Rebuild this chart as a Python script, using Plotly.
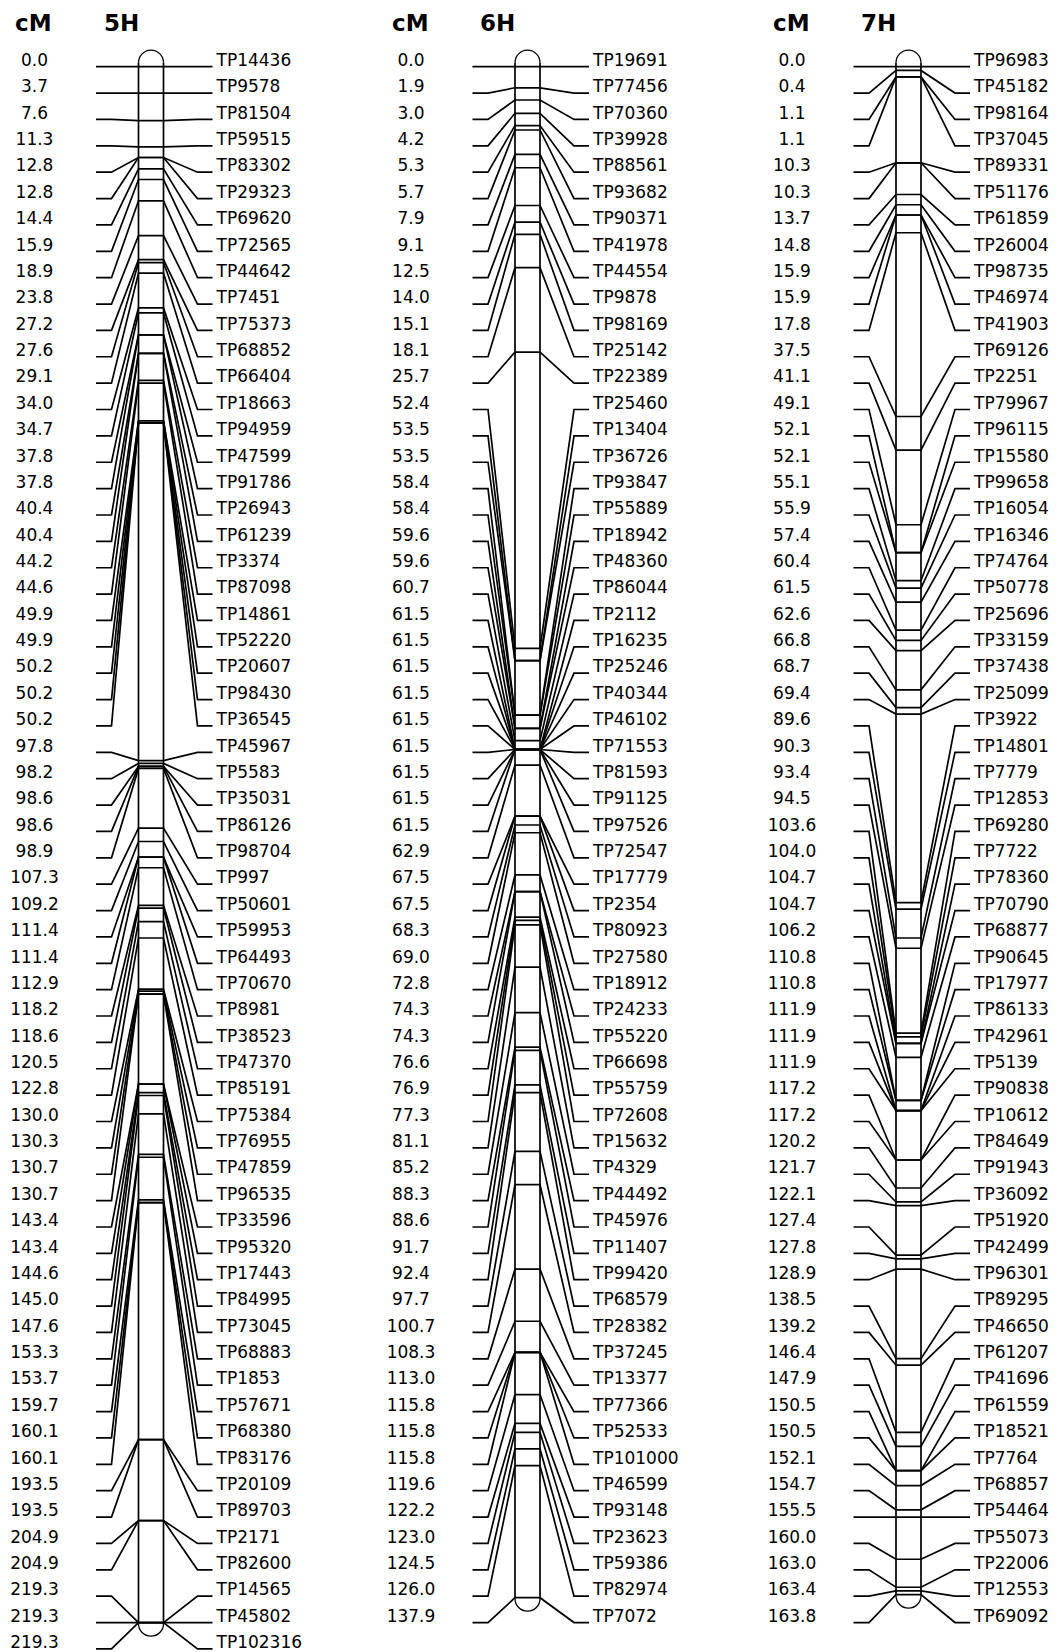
import plotly.graph_objects as go

# ---------------- data ----------------
chromosomes = ["5H", "6H", "7H"]

cm_5H = [0.0, 3.7, 7.6, 11.3, 12.8, 12.8, 14.4, 15.9, 18.9, 23.8, 27.2, 27.6, 29.1, 34.0, 34.7,
         37.8, 37.8, 40.4, 40.4, 44.2, 44.6, 49.9, 49.9, 50.2, 50.2, 50.2, 97.8, 98.2, 98.6, 98.6,
         98.9, 107.3, 109.2, 111.4, 111.4, 112.9, 118.2, 118.6, 120.5, 122.8, 130.0, 130.3, 130.7,
         130.7, 143.4, 143.4, 144.6, 145.0, 147.6, 153.3, 153.7, 159.7, 160.1, 160.1, 193.5, 193.5,
         204.9, 204.9, 219.3, 219.3, 219.3]
markers_5H = ["TP14436", "TP9578", "TP81504", "TP59515", "TP83302", "TP29323", "TP69620", "TP72565",
              "TP44642", "TP7451", "TP75373", "TP68852", "TP66404", "TP18663", "TP94959", "TP47599",
              "TP91786", "TP26943", "TP61239", "TP3374", "TP87098", "TP14861", "TP52220", "TP20607",
              "TP98430", "TP36545", "TP45967", "TP5583", "TP35031", "TP86126", "TP98704", "TP997",
              "TP50601", "TP59953", "TP64493", "TP70670", "TP8981", "TP38523", "TP47370", "TP85191",
              "TP75384", "TP76955", "TP47859", "TP96535", "TP33596", "TP95320", "TP17443", "TP84995",
              "TP73045", "TP68883", "TP1853", "TP57671", "TP68380", "TP83176", "TP20109", "TP89703",
              "TP2171", "TP82600", "TP14565", "TP45802", "TP102316"]

cm_6H = [0.0, 1.9, 3.0, 4.2, 5.3, 5.7, 7.9, 9.1, 12.5, 14.0, 15.1, 18.1, 25.7, 52.4, 53.5, 53.5,
         58.4, 58.4, 59.6, 59.6, 60.7, 61.5, 61.5, 61.5, 61.5, 61.5, 61.5, 61.5, 61.5, 61.5, 62.9,
         67.5, 67.5, 68.3, 69.0, 72.8, 74.3, 74.3, 76.6, 76.9, 77.3, 81.1, 85.2, 88.3, 88.6, 91.7,
         92.4, 97.7, 100.7, 108.3, 113.0, 115.8, 115.8, 115.8, 119.6, 122.2, 123.0, 124.5, 126.0,
         137.9]
markers_6H = ["TP19691", "TP77456", "TP70360", "TP39928", "TP88561", "TP93682", "TP90371", "TP41978",
              "TP44554", "TP9878", "TP98169", "TP25142", "TP22389", "TP25460", "TP13404", "TP36726",
              "TP93847", "TP55889", "TP18942", "TP48360", "TP86044", "TP2112", "TP16235", "TP25246",
              "TP40344", "TP46102", "TP71553", "TP81593", "TP91125", "TP97526", "TP72547", "TP17779",
              "TP2354", "TP80923", "TP27580", "TP18912", "TP24233", "TP55220", "TP66698", "TP55759",
              "TP72608", "TP15632", "TP4329", "TP44492", "TP45976", "TP11407", "TP99420", "TP68579",
              "TP28382", "TP37245", "TP13377", "TP77366", "TP52533", "TP101000", "TP46599", "TP93148",
              "TP23623", "TP59386", "TP82974", "TP7072"]

cm_7H = [0.0, 0.4, 1.1, 1.1, 10.3, 10.3, 13.7, 14.8, 15.9, 15.9, 17.8, 37.5, 41.1, 49.1, 52.1, 52.1,
         55.1, 55.9, 57.4, 60.4, 61.5, 62.6, 66.8, 68.7, 69.4, 89.6, 90.3, 93.4, 94.5, 103.6, 104.0,
         104.7, 104.7, 106.2, 110.8, 110.8, 111.9, 111.9, 111.9, 117.2, 117.2, 120.2, 121.7, 122.1,
         127.4, 127.8, 128.9, 138.5, 139.2, 146.4, 147.9, 150.5, 150.5, 152.1, 154.7, 155.5, 160.0,
         163.0, 163.4, 163.8]
markers_7H = ["TP96983", "TP45182", "TP98164", "TP37045", "TP89331", "TP51176", "TP61859", "TP26004",
              "TP98735", "TP46974", "TP41903", "TP69126", "TP2251", "TP79967", "TP96115", "TP15580",
              "TP99658", "TP16054", "TP16346", "TP74764", "TP50778", "TP25696", "TP33159", "TP37438",
              "TP25099", "TP3922", "TP14801", "TP7779", "TP12853", "TP69280", "TP7722", "TP78360",
              "TP70790", "TP68877", "TP90645", "TP17977", "TP86133", "TP42961", "TP5139", "TP90838",
              "TP10612", "TP84649", "TP91943", "TP36092", "TP51920", "TP42499", "TP96301", "TP89295",
              "TP46650", "TP61207", "TP41696", "TP61559", "TP18521", "TP7764", "TP68857", "TP54464",
              "TP55073", "TP22006", "TP12553", "TP69092"]

unit_label = "cM"

# ---------------- layout parameters ----------------
W, H = 1057, 1652
ROW0 = 66.7          # y of first label row
ROW_STEP = 26.37     # spacing of label rows
CHROM_X = {"5H": 138.5, "6H": 515.0, "7H": 896.0}      # left edge of each chromosome bar
CHROM_LEN = {"5H": 1556.0, "6H": 1531.0, "7H": 1528.0}  # drawn length of each chromosome
BAR_W = 25.0
LINE_W = 1.7
FONT = "DejaVu Sans"
TXT = "#000000"

data = {"5H": (cm_5H, markers_5H), "6H": (cm_6H, markers_6H), "7H": (cm_7H, markers_7H)}

fig = go.Figure()

for name in chromosomes:
    cms, marks = data[name]
    X = CHROM_X[name]
    L = CHROM_LEN[name]
    cmax = max(cms)

    def ychr(c):
        return ROW0 + c / cmax * L

    xs, ys = [], []
    rows = []
    for i, c in enumerate(cms):
        yr = ROW0 + i * ROW_STEP
        yc = ychr(c)
        rows.append(yr)
        xs += [X - 42.5, X - 27.0, X, X + BAR_W, X + BAR_W + 34.0, X + BAR_W + 49.0, None]
        ys += [yr, yr, yc, yc, yr, yr, None]
    fig.add_trace(go.Scatter(x=xs, y=ys, mode="lines", line=dict(color="black", width=LINE_W),
                             hoverinfo="skip", showlegend=False))

    # chromosome outline
    ytop = ychr(0) - 4
    ybot = ychr(cmax) + 1
    fig.add_trace(go.Scatter(x=[X, X, None, X + BAR_W, X + BAR_W],
                             y=[ytop, ybot, None, ytop, ybot], mode="lines",
                             line=dict(color="black", width=LINE_W), hoverinfo="skip",
                             showlegend=False))
    r = BAR_W / 2.0
    k = 0.5523 * r
    cx = X + r
    top = (f"M {X},{ytop} C {X},{ytop - k} {cx - k},{ytop - r} {cx},{ytop - r} "
           f"C {cx + k},{ytop - r} {X + BAR_W},{ytop - k} {X + BAR_W},{ytop}")
    bot = (f"M {X},{ybot} C {X},{ybot + k} {cx - k},{ybot + r} {cx},{ybot + r} "
           f"C {cx + k},{ybot + r} {X + BAR_W},{ybot + k} {X + BAR_W},{ybot}")
    for p in (top, bot):
        fig.add_shape(type="path", path=p, xref="x", yref="y",
                      line=dict(color="black", width=1.3))

    # cM values (left) and marker names (right)
    fig.add_trace(go.Scatter(x=[X - 104.0] * len(cms), y=[y - 5.0 for y in rows], mode="text",
                             text=[f"{c:.1f}" for c in cms], textposition="middle center",
                             textfont=dict(family=FONT, size=17, color=TXT),
                             hoverinfo="skip", showlegend=False))
    fig.add_trace(go.Scatter(x=[X + BAR_W + 53.0] * len(cms), y=[y - 5.0 for y in rows],
                             mode="text", text=marks, textposition="middle right",
                             textfont=dict(family=FONT, size=17, color=TXT),
                             hoverinfo="skip", showlegend=False))

    # headers
    fig.add_annotation(x=X - 105.0, y=23, text=f"<b>{unit_label}</b>", showarrow=False,
                       xanchor="center", yanchor="middle",
                       font=dict(family=FONT, size=23, color="black"))
    fig.add_annotation(x=X - 37.0, y=23, text=f"<b>{name}</b>", showarrow=False,
                       xanchor="left", yanchor="middle",
                       font=dict(family=FONT, size=23, color="black"))

fig.update_layout(
    width=W, height=H, margin=dict(l=0, r=0, t=0, b=0),
    paper_bgcolor="white", plot_bgcolor="white", showlegend=False,
    xaxis=dict(range=[0, W], visible=False, fixedrange=True),
    yaxis=dict(range=[H, 0], visible=False, fixedrange=True),
)

fig.write_html("out.html")
